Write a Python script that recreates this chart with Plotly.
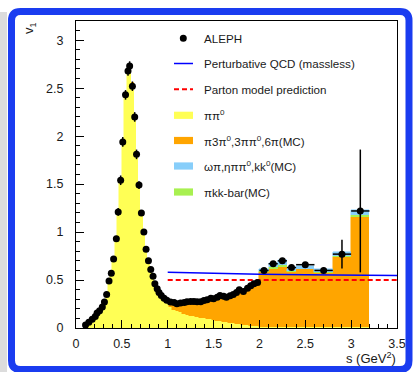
import numpy as np
import plotly.graph_objects as go

# ---------------- data ----------------
# ALEPH fine-binned spectral function (s in GeV^2, v1)
s_fine = [0.104, 0.14, 0.177, 0.21, 0.23, 0.257, 0.287, 0.31, 0.334, 0.36,
          0.385, 0.41, 0.44, 0.46, 0.487, 0.51, 0.54, 0.567, 0.585, 0.615,
          0.64, 0.66, 0.687, 0.713, 0.74, 0.764, 0.79, 0.815, 0.84, 0.86,
          0.885, 0.905, 0.93, 0.96, 0.99, 1.03, 1.07, 1.10, 1.14, 1.18,
          1.21, 1.25, 1.285, 1.32, 1.36, 1.395, 1.43, 1.47, 1.50, 1.54,
          1.57, 1.61, 1.64, 1.68, 1.715, 1.75, 1.78, 1.825, 1.87, 1.905,
          1.94, 1.98]
v_fine = [0.03, 0.06, 0.09, 0.12, 0.156, 0.18, 0.22, 0.27, 0.35, 0.49,
          0.57, 0.72, 0.93, 1.21, 1.54, 1.94, 2.43, 2.68, 2.73, 2.52,
          2.20, 1.81, 1.49, 1.20, 1.00, 0.82, 0.70, 0.61, 0.54, 0.46,
          0.41, 0.37, 0.34, 0.31, 0.29, 0.27, 0.267, 0.253, 0.26, 0.267,
          0.274, 0.277, 0.277, 0.274, 0.274, 0.287, 0.295, 0.31, 0.305, 0.32,
          0.34, 0.33, 0.32, 0.336, 0.35, 0.37, 0.40, 0.38, 0.415, 0.44,
          0.46, 0.475]
err_fine = [0.01, 0.01, 0.01, 0.01, 0.01, 0.01, 0.01, 0.015, 0.015, 0.02,
            0.02, 0.02, 0.03, 0.04, 0.05, 0.05, 0.05, 0.05, 0.05, 0.05,
            0.05, 0.05, 0.04, 0.03, 0.03, 0.02, 0.02, 0.015, 0.01, 0.01,
            0.01, 0.01, 0.01, 0.01, 0.01, 0.01, 0.01, 0.01, 0.01, 0.01,
            0.01, 0.01, 0.01, 0.01, 0.01, 0.01, 0.01, 0.01, 0.01, 0.01,
            0.01, 0.01, 0.01, 0.01, 0.01, 0.01, 0.01, 0.01, 0.01, 0.01,
            0.01, 0.01]

# ALEPH coarse bins above 2 GeV^2
s_coarse = [2.05, 2.15, 2.25, 2.35, 2.5, 2.7, 2.9, 3.1]
w_coarse = [0.1, 0.1, 0.1, 0.1, 0.2, 0.2, 0.2, 0.2]
v_coarse = [0.60, 0.67, 0.70, 0.63, 0.66, 0.60, 0.77, 1.22]
err_coarse = [0.02, 0.02, 0.02, 0.02, 0.02, 0.03, 0.15, 0.64]

# stacked MC / model components
yellow_fine = [0.03, 0.06, 0.09, 0.12, 0.15, 0.18, 0.22, 0.27, 0.34, 0.47,
               0.57, 0.72, 0.93, 1.20, 1.55, 1.95, 2.45, 2.70, 2.72, 2.55,
               2.20, 1.82, 1.50, 1.20, 1.00, 0.83, 0.70, 0.61, 0.53, 0.46,
               0.40, 0.36, 0.33, 0.29, 0.26, 0.22, 0.19, 0.18, 0.17, 0.15,
               0.14, 0.13, 0.12, 0.115, 0.105, 0.10, 0.095, 0.09, 0.085, 0.075,
               0.07, 0.065, 0.06, 0.055, 0.05, 0.045, 0.04, 0.035, 0.03, 0.025,
               0.02, 0.02]
orange_fine = [0, 0, 0, 0, 0, 0, 0, 0, 0, 0,
               0, 0, 0, 0, 0, 0, 0, 0, 0, 0,
               0, 0, 0, 0, 0, 0, 0, 0, 0, 0,
               0, 0, 0, 0.01, 0.02, 0.04, 0.06, 0.06, 0.08, 0.10,
               0.12, 0.13, 0.145, 0.15, 0.16, 0.175, 0.185, 0.20, 0.21, 0.23,
               0.25, 0.255, 0.25, 0.27, 0.285, 0.31, 0.34, 0.33, 0.37, 0.40,
               0.43, 0.45]
yellow_coarse = [0.01, 0.01, 0.01, 0.01, 0.01, 0.01, 0.01, 0.01]
orange_coarse = [0.57, 0.61, 0.63, 0.57, 0.60, 0.56, 0.73, 1.15]
green_coarse = [0.01, 0.015, 0.015, 0.01, 0.01, 0.01, 0.01, 0.015]
blue_coarse = [0.02, 0.045, 0.055, 0.02, 0.03, 0.03, 0.04, 0.06]

# theory curves
qcd_s = [1.0, 1.5, 2.0, 2.5, 3.0, 3.5]
qcd_v = [0.58, 0.568, 0.561, 0.555, 0.55, 0.546]
parton_s = [1.0, 3.5]
parton_v = [0.5, 0.5]

legend_labels = ["ALEPH", "Perturbative QCD (massless)", "Parton model prediction",
                 "ππ<sup>0</sup>", "π3π<sup>0</sup>,3ππ<sup>0</sup>,6π(MC)",
                 "ωπ,ηππ<sup>0</sup>,kk<sup>0</sup>(MC)", "πkk-bar(MC)"]

# ---------------- style ----------------
C_YEL = "#ffff55"
C_ORA = "#ffa500"
C_BLU = "#87cefa"
C_GRN = "#a8f050"
FONT = "Liberation Sans, Arial, Helvetica, sans-serif"
TXT = "#1a1a1a"

W_FIG, H_FIG = 414, 372
L, T, PW, PH = 76, 21, 321, 307


def xp(px):
    return (px - L) / PW


def yp(py):
    return (T + PH - py) / PH


# fine bin edges from data positions
sf = np.array(s_fine)
edges = np.concatenate([[sf[0] - (sf[1] - sf[0]) / 2], (sf[1:] + sf[:-1]) / 2, [2.0]])
fine_c = (edges[1:] + edges[:-1]) / 2
fine_w = np.diff(edges)

x_all = np.concatenate([fine_c, s_coarse])
w_all = np.concatenate([fine_w, w_coarse])

fig = go.Figure()


def bar(x, y, w, color):
    return go.Bar(x=x, y=y, width=w, marker=dict(color=color, line=dict(width=0.5, color=color)),
                  showlegend=False, hoverinfo="skip")


fig.add_trace(bar(x_all, yellow_fine + yellow_coarse, w_all, C_YEL))
fig.add_trace(bar(x_all, orange_fine + orange_coarse, w_all, C_ORA))
fig.add_trace(bar(s_coarse, green_coarse, w_coarse, C_GRN))
fig.add_trace(bar(s_coarse, blue_coarse, w_coarse, C_BLU))

fig.add_trace(go.Scatter(x=qcd_s, y=qcd_v, mode="lines", line=dict(color="#0000ff", width=1.5),
                         showlegend=False, hoverinfo="skip"))
fig.add_trace(go.Scatter(x=parton_s, y=parton_v, mode="lines",
                         line=dict(color="#ff0000", width=2, dash="5px,3px"),
                         showlegend=False, hoverinfo="skip"))

fig.add_trace(go.Scatter(x=s_fine, y=v_fine, mode="markers",
                         marker=dict(color="black", size=7),
                         error_y=dict(type="data", array=err_fine, color="black", thickness=1.5, width=0),
                         showlegend=False))
fig.add_trace(go.Scatter(x=s_coarse, y=v_coarse, mode="markers",
                         marker=dict(color="black", size=7),
                         error_y=dict(type="data", array=err_coarse, color="black", thickness=1.5, width=0),
                         error_x=dict(type="data", array=[w / 2 for w in w_coarse], color="black",
                                      thickness=1.5, width=0),
                         showlegend=False))

# ---------------- decorations: frame ----------------
shapes = []
# left shadow
shapes.append(dict(type="rect", xref="paper", yref="paper", x0=xp(0), x1=xp(7), y0=yp(372), y1=yp(12),
                   fillcolor="#dcdcdc", line=dict(width=0), layer="below"))
# blue hand-drawn style border (rounded rectangle)
bx0, bx1, by0, by1, r = 11.5, 409, 11.5, 369.5, 9
path = (f"M {xp(bx0 + r)},{yp(by0)} L {xp(bx1 - r)},{yp(by0)} "
        f"Q {xp(bx1)},{yp(by0)} {xp(bx1)},{yp(by0 + r)} "
        f"L {xp(bx1)},{yp(by1 - r)} Q {xp(bx1)},{yp(by1)} {xp(bx1 - r)},{yp(by1)} "
        f"L {xp(bx0 + r)},{yp(by1)} Q {xp(bx0)},{yp(by1)} {xp(bx0)},{yp(by1 - r)} "
        f"L {xp(bx0)},{yp(by0 + r)} Q {xp(bx0)},{yp(by0)} {xp(bx0 + r)},{yp(by0)} Z")
shapes.append(dict(type="path", xref="paper", yref="paper", path=path,
                   line=dict(color="#1a3cf0", width=7), fillcolor="white", layer="below"))

# ---------------- custom legend ----------------
rows = [38.3, 63.5, 89.3, 115.3, 140.5, 166.0, 192.0]
sx0, sx1, tx = 174, 193, 202
annotations = []
for lab, ry in zip(legend_labels, rows):
    annotations.append(dict(text=lab, xref="paper", yref="paper", x=xp(tx), y=yp(ry),
                            xanchor="left", yanchor="middle", showarrow=False,
                            font=dict(family=FONT, size=11.6, color=TXT)))
# ALEPH marker
shapes.append(dict(type="circle", xref="paper", yref="paper", x0=xp(179.8), x1=xp(186.8),
                   y0=yp(rows[0] + 3.5), y1=yp(rows[0] - 3.5), fillcolor="black", line=dict(width=0)))
# QCD line
shapes.append(dict(type="line", xref="paper", yref="paper", x0=xp(sx0), x1=xp(sx1),
                   y0=yp(rows[1]), y1=yp(rows[1]), line=dict(color="#0000ff", width=1.5)))
# parton dashed line
shapes.append(dict(type="line", xref="paper", yref="paper", x0=xp(sx0), x1=xp(sx1),
                   y0=yp(rows[2]), y1=yp(rows[2]), line=dict(color="#ff0000", width=2, dash="5px,3px")))
for col, ry in zip([C_YEL, C_ORA, C_BLU, C_GRN], rows[3:]):
    shapes.append(dict(type="rect", xref="paper", yref="paper", x0=xp(sx0), x1=xp(sx1),
                       y0=yp(ry + 3.6), y1=yp(ry - 3.6), fillcolor=col, line=dict(width=0)))

# axis titles
annotations.append(dict(text="v<sub>1</sub>", xref="paper", yref="paper", x=xp(29), y=yp(28),
                        xanchor="center", yanchor="middle", textangle=-90, showarrow=False,
                        font=dict(family=FONT, size=13, color=TXT)))
annotations.append(dict(text="s (GeV<sup>2</sup>)", xref="paper", yref="paper", x=xp(397.5), y=yp(358),
                        xanchor="right", yanchor="middle", showarrow=False,
                        font=dict(family=FONT, size=13, color=TXT)))

axis_common = dict(showgrid=False, zeroline=False, showline=True, linecolor="black", linewidth=1,
                   mirror=True, ticks="inside", ticklen=8, tickwidth=1, tickcolor="black",
                   minor=dict(ticks="inside", ticklen=4, tickwidth=1, tickcolor="black", dtick=0.1),
                   tickfont=dict(family=FONT, size=12.5, color=TXT), tick0=0, dtick=0.5)

fig.update_layout(
    width=W_FIG, height=H_FIG,
    margin=dict(l=L, r=W_FIG - L - PW, t=T, b=H_FIG - T - PH, autoexpand=False),
    paper_bgcolor="white", plot_bgcolor="white",
    barmode="stack", bargap=0,
    xaxis=dict(range=[0, 3.5], ticklabelstandoff=4, **axis_common),
    yaxis=dict(range=[0, 3.2], ticklabelstandoff=9, **axis_common),
    shapes=shapes, annotations=annotations,
    showlegend=False,
)

fig.write_html("out.html", config={"displayModeBar": False},
               post_script="document.body.style.margin='0px';document.body.style.padding='0px';"
                           "document.body.style.overflow='hidden';")
